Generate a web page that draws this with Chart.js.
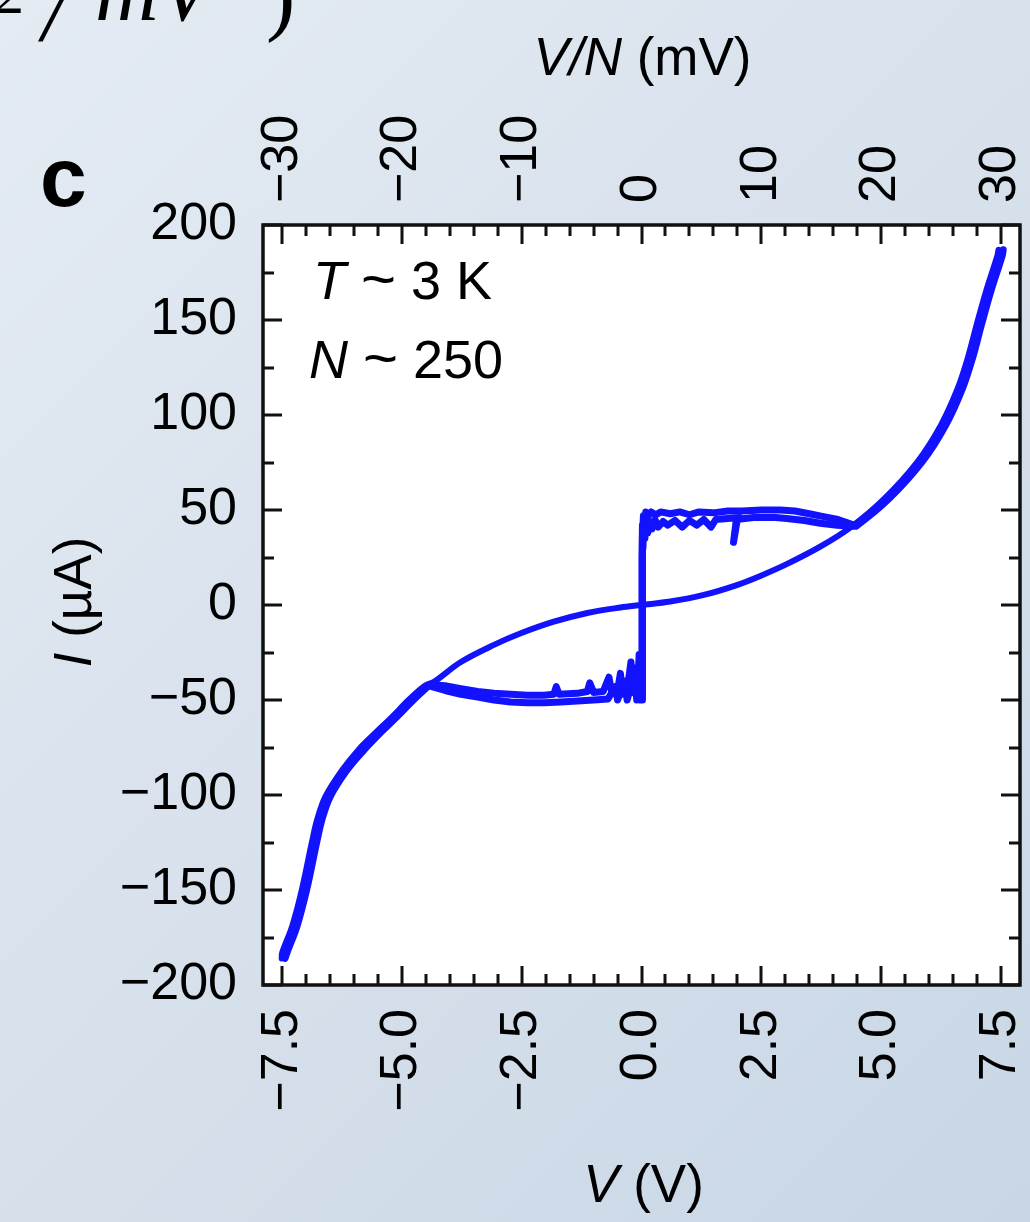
<!DOCTYPE html>
<html>
<head>
<meta charset="utf-8">
<title>I-V curve</title>
<script src="https://cdn.jsdelivr.net/npm/chart.js@4.4.1/dist/chart.umd.min.js"></script>
<style>
  html, body {
    margin: 0;
    padding: 0;
    width: 1030px;
    height: 1222px;
    overflow: hidden;
    background: linear-gradient(135deg, #e4ebf3 0%, #d6e0eb 55%, #c8d6e5 100%);
  }
  canvas { display: block; }
</style>
</head>
<body>
<canvas id="ivChart" width="1030" height="1222"></canvas>
<script>
// Tick values and labels
const xTickValues = [-7.5, -5, -2.5, 0, 2.5, 5, 7.5];
const xTickLabels = ["\u22127.5", "\u22125.0", "\u22122.5", "0.0", "2.5", "5.0", "7.5"];
const topTickValues = [-30, -20, -10, 0, 10, 20, 30];
const topTickLabels = ["\u221230", "\u221220", "\u221210", "0", "10", "20", "30"];
const yTickValues = [-200, -150, -100, -50, 0, 50, 100, 150, 200];
const yTickLabels = ["\u2212200", "\u2212150", "\u2212100", "\u221250", "0", "50", "100", "150", "200"];

// Up sweep, negative outer curve (V in volts, I in uA)
const negOuterUpV = [-7.44, -7.40, -7.19, -6.99, -6.78, -6.67, -6.50, -6.15, -5.80, -5.46, -5.11, -4.76, -4.42];
const negOuterUpI = [-186, -183, -169, -150, -125, -113, -101, -87, -76.5, -67.5, -59, -50, -42];

// Up sweep, plateau, first run (-4.4 V ... jump at 0 ... +4.4 V)
const plateauV = [-4.40, -4.10, -3.77, -3.42, -3.08, -2.73, -2.38, -2.03, -1.83, -1.78, -1.72, -1.34, -1.13, -1.08,
  -1.00, -0.80, -0.68, -0.62, -0.50, -0.44, -0.40, -0.30, -0.22, -0.18, -0.12, -0.08, -0.05, -0.03, 0.00,
  0.01, 0.01, 0.02, 0.03, 0.05, 0.07, 0.10, 0.13, 0.17, 0.22, 0.28, 0.35, 0.45, 0.55, 0.70, 0.85, 1.00, 1.15,
  1.30, 1.45, 1.55, 1.80, 2.05, 2.00, 1.92, 1.98, 2.34, 2.60, 2.80, 3.03, 3.40, 3.73, 4.08, 4.42];
const plateauI = [-42, -42.5, -44, -45.5, -46.5, -47, -47.5, -47.5, -47, -43, -47, -46.5, -45.5, -41,
  -46, -45.5, -38, -46, -45, -36, -47, -45, -30, -46, -33, -47, -26, -47, -48,
  -48, 25, 42, 30, 44, 35, 45, 38, 44, 40, 45, 41, 44, 42, 44.5, 41, 44.5, 42,
  45, 41, 45, 45.5, 46, 45, 33, 45, 46, 46, 46, 45.5, 44.5, 43, 42, 41.5];

// Up sweep, plateau, second run
const plateau2V = [-4.45, -4.10, -3.77, -3.42, -3.08, -2.73, -2.38, -2.03, -1.69, -1.34, -1.00, -0.70, -0.55, -0.50,
  -0.35, -0.30, -0.15, -0.10, -0.04, -0.02, 0.02, 0.02, 0.04, 0.06, 0.09, 0.15, 0.20, 0.30, 0.40, 0.60, 0.80,
  1.00, 1.20, 1.50, 1.80, 2.10, 2.50, 2.90, 3.20, 3.50, 3.80, 4.10, 4.45];
const plateau2I = [-42.5, -45, -47, -48.5, -50, -51, -51.5, -51.5, -51, -50.5, -50, -49.5, -43, -50,
  -40, -50, -36, -50, -38, -50, -50, 35, 47, 40, 49, 47, 49, 47.5, 49, 48, 49,
  47.5, 49, 48.5, 49.5, 49.5, 50, 50, 49.5, 48, 46.5, 45, 42];

// Up sweep, positive outer curve
const posOuterUpV = [4.42, 4.48, 5.17, 5.86, 6.35, 6.70, 6.91, 7.09, 7.29, 7.53, 7.55];
const posOuterUpI = [42, 41.5, 56, 75.4, 94.7, 114, 130, 147, 165, 184, 187];

// Down sweep (+7.5 V back to -7.5 V) through the origin
const downV = [7.45, 7.43, 7.19, 6.99, 6.81, 6.60, 6.25, 5.76, 5.07, 4.37, 3.73, 3.03, 2.48, 1.99, 1.30, 0.60, 0,
  -0.44, -1.13, -1.83, -2.52, -3.08, -3.77, -4.33, -4.52, -4.86, -5.21, -5.56, -5.90, -6.25, -6.60, -6.77, -6.88, -7.09, -7.29, -7.50, -7.51];
const downI = [187, 184, 165, 147, 130, 114, 94.7, 75.4, 56, 41, 30.7, 21.5, 15.3, 10.5, 5.3, 1.8, 0,
  -1.3, -4.2, -8.8, -14.9, -21, -30, -40.4, -42.5, -50, -59, -67.5, -76, -87, -101, -113, -125, -150, -169, -183, -186];

const LINE_BLUE = "#1212ff";
const FONT = "'Liberation Sans', Arial, Helvetica, sans-serif";

function toPoints(vs, is) {
  return vs.map((v, i) => ({ x: v, y: is[i] }));
}

function lineSet(label, vs, is, tension, width) {
  return {
    label: label,
    data: toPoints(vs, is),
    showLine: true,
    borderColor: LINE_BLUE,
    backgroundColor: LINE_BLUE,
    borderWidth: width,
    pointRadius: 0,
    tension: tension,
    borderJoinStyle: "round",
    borderCapStyle: "round"
  };
}

// draws text made of [text, italic, size] pieces
function drawMixed(ctx, parts, x, y, size, align) {
  const fontOf = p => (p[1] ? "italic " : "") + (p[2] || size) + "px " + FONT;
  let total = 0;
  parts.forEach(p => {
    ctx.font = fontOf(p);
    total += ctx.measureText(p[0]).width;
  });
  let cx = align === "left" ? x : x - total / 2;
  ctx.textAlign = "left";
  parts.forEach(p => {
    ctx.font = fontOf(p);
    ctx.fillText(p[0], cx, y);
    cx += ctx.measureText(p[0]).width;
  });
}

const decorPlugin = {
  id: "decor",
  beforeDraw(chart) {
    const { ctx, chartArea: a } = chart;
    ctx.save();
    ctx.fillStyle = "#ffffff";
    ctx.fillRect(a.left, a.top, a.right - a.left, a.bottom - a.top);
    ctx.restore();
  },
  afterDraw(chart) {
    const { ctx, chartArea: a, scales } = chart;
    const sx = scales.x, sx2 = scales.x2, sy = scales.y;
    ctx.save();
    ctx.strokeStyle = "#111";
    ctx.lineWidth = 3;
    ctx.lineCap = "butt";

    // inward ticks, bottom (V) and top (mV)
    ctx.beginPath();
    for (let k = -15; k <= 15; k++) {
      const len = k % 5 === 0 ? 19 : 11;
      const px = Math.round(sx.getPixelForValue(k * 0.5));
      ctx.moveTo(px, a.bottom);
      ctx.lineTo(px, a.bottom - len);
      const pt = Math.round(sx2.getPixelForValue(k * 2));
      ctx.moveTo(pt, a.top);
      ctx.lineTo(pt, a.top + len);
    }
    // inward ticks, left and right (uA)
    for (let k = -8; k <= 8; k++) {
      const len = k % 2 === 0 ? 19 : 11;
      const py = Math.round(sy.getPixelForValue(k * 25));
      ctx.moveTo(a.left, py);
      ctx.lineTo(a.left + len, py);
      ctx.moveTo(a.right, py);
      ctx.lineTo(a.right - len, py);
    }
    ctx.stroke();

    // frame
    ctx.lineWidth = 3.5;
    ctx.strokeRect(a.left, a.top, a.right - a.left, a.bottom - a.top);

    // axis titles
    ctx.fillStyle = "#000";
    ctx.textBaseline = "alphabetic";
    drawMixed(ctx, [["V/N", true], [" (mV)", false]], (a.left + a.right) / 2 + 1, 75, 53, "center");
    drawMixed(ctx, [["V", true], [" (V)", false]], (a.left + a.right) / 2 + 2, 1202, 53, "center");
    ctx.save();
    ctx.translate(91, (a.top + a.bottom) / 2 - 3);
    ctx.rotate(-Math.PI / 2);
    drawMixed(ctx, [["I", true], [" (\u00b5A)", false]], 0, 0, 53, "center");
    ctx.restore();

    // annotations inside the frame
    drawMixed(ctx, [["T", true], [" ", false], ["~", false, 60], [" 3 K", false]], a.left + 50, 299, 54, "left");
    drawMixed(ctx, [["N", true], [" ", false], ["~", false, 60], [" 250", false]], a.left + 46, 378, 54, "left");

    // panel letter
    ctx.font = "bold 84px " + FONT;
    ctx.textAlign = "left";
    ctx.fillText("c", 40, 206);

    // clipped remains of the previous panel's label
    ctx.font = "italic 88px 'Liberation Serif', serif";
    ctx.fillText("/", 42, 40);
    ctx.fillText("mV", 95, 20);
    ctx.font = "88px 'Liberation Serif', serif";
    ctx.fillText(")", 266, 24);
    ctx.font = "60px 'Liberation Serif', serif";
    ctx.fillText("2", -6, 13);
    ctx.restore();
  }
};

// rotated labels make Chart.js reserve side padding; the frame needs none
function fixHeight(h) {
  return s => {
    s.height = h;
    s.paddingLeft = 0;
    s.paddingRight = 0;
  };
}

new Chart(document.getElementById("ivChart"), {
  type: "scatter",
  data: {
    datasets: [
      lineSet("up, negative", negOuterUpV, negOuterUpI, 0.35, 7),
      lineSet("up, plateau", plateauV, plateauI, 0, 7),
      lineSet("up, plateau 2", plateau2V, plateau2I, 0, 7),
      lineSet("up, positive", posOuterUpV, posOuterUpI, 0.35, 7),
      lineSet("down", downV, downI, 0.35, 6)
    ]
  },
  options: {
    responsive: false,
    animation: false,
    devicePixelRatio: 1,
    layout: { padding: { left: 0, right: 10, top: 0, bottom: 0 } },
    plugins: {
      legend: { display: false },
      tooltip: { enabled: false }
    },
    scales: {
      x: {
        type: "linear",
        position: "bottom",
        min: -7.9,
        max: 7.9,
        afterBuildTicks: s => { s.ticks = xTickValues.map(v => ({ value: v })); },
        afterFit: fixHeight(237),
        grid: { display: false, drawTicks: false },
        border: { display: false },
        ticks: {
          autoSkip: false,
          minRotation: 90,
          maxRotation: 90,
          padding: 24,
          color: "#000",
          font: { family: FONT, size: 52 },
          callback: (v, i) => xTickLabels[i]
        }
      },
      x2: {
        type: "linear",
        position: "top",
        min: -31.6,
        max: 31.6,
        afterBuildTicks: s => { s.ticks = topTickValues.map(v => ({ value: v })); },
        afterFit: fixHeight(225),
        grid: { display: false, drawTicks: false },
        border: { display: false },
        ticks: {
          autoSkip: false,
          minRotation: 90,
          maxRotation: 90,
          padding: 22,
          labelOffset: 62.4,
          color: "#000",
          font: { family: FONT, size: 52 },
          callback: (v, i) => topTickLabels[i]
        }
      },
      y: {
        type: "linear",
        position: "left",
        min: -200,
        max: 200,
        afterBuildTicks: s => { s.ticks = yTickValues.map(v => ({ value: v })); },
        afterFit: s => { s.width = 263; },
        grid: { display: false, drawTicks: false },
        border: { display: false },
        ticks: {
          autoSkip: false,
          padding: 26,
          color: "#000",
          font: { family: FONT, size: 52 },
          callback: (v, i) => yTickLabels[i]
        }
      }
    }
  },
  plugins: [decorPlugin]
});
</script>
</body>
</html>
